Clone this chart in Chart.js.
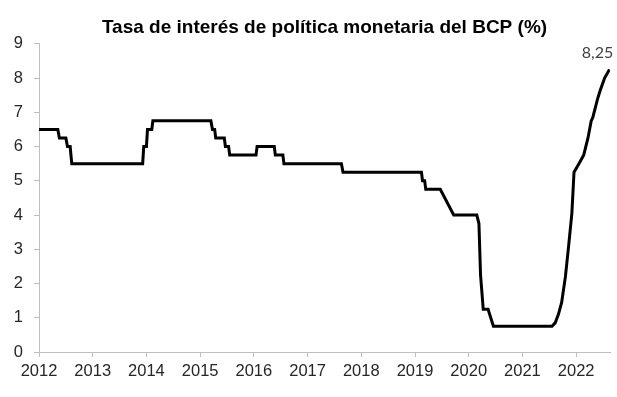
<!DOCTYPE html>
<html>
<head>
<meta charset="utf-8">
<script src="https://cdn.jsdelivr.net/npm/chart.js@4/dist/chart.umd.min.js"></script>
<style>
  html, body { margin: 0; padding: 0; background: #fff; }
  #wrap { width: 617px; height: 397px; }
</style>
</head>
<body>
<div id="wrap"><canvas id="chart" width="617" height="397"></canvas></div>
<script>
// breakpoints of the policy rate, x in decimal years
const dates = [
    2012.00, 2012.35, 2012.38, 2012.50, 2012.53, 2012.58, 2012.61,
    2013.93, 2013.95, 2014.00, 2014.02, 2014.10, 2014.12,
    2015.20, 2015.23, 2015.27, 2015.29, 2015.45, 2015.47, 2015.53, 2015.55,
    2016.04, 2016.06, 2016.38, 2016.40, 2016.54, 2016.56,
    2017.63, 2017.66,
    2019.12, 2019.14, 2019.18, 2019.20, 2019.47, 2019.72,
    2020.15, 2020.19, 2020.22, 2020.27, 2020.36, 2020.46,
    2021.55, 2021.61, 2021.67, 2021.73, 2021.80, 2021.86, 2021.92, 2021.96,
    2022.07, 2022.14, 2022.22, 2022.28, 2022.31, 2022.40, 2022.45, 2022.53, 2022.62
];
const rates = [
    6.5, 6.5, 6.25, 6.25, 6.0, 6.0, 5.5,
    5.5, 6.0, 6.0, 6.5, 6.5, 6.75,
    6.75, 6.5, 6.5, 6.25, 6.25, 6.0, 6.0, 5.75,
    5.75, 6.0, 6.0, 5.75, 5.75, 5.5,
    5.5, 5.25,
    5.25, 5.0, 5.0, 4.75, 4.75, 4.0,
    4.0, 3.75, 2.25, 1.25, 1.25, 0.75,
    0.75, 0.85, 1.1, 1.45, 2.2, 3.1, 4.05, 5.25,
    5.55, 5.75, 6.25, 6.75, 6.85, 7.4, 7.65, 8.0, 8.25
];
const yearTicks = [2012, 2013, 2014, 2015, 2016, 2017, 2018, 2019, 2020, 2021, 2022];
const lastLabel = '8,25';

const points = dates.map((d, i) => ({ x: d, y: rates[i] }));

// label over the last point
const endLabel = {
    id: 'endLabel',
    afterDatasetsDraw(chart) {
        const meta = chart.getDatasetMeta(0);
        const p = meta.data[meta.data.length - 1];
        const ctx = chart.ctx;
        ctx.save();
        ctx.font = '16px Lato';
        ctx.fillStyle = '#404040';
        ctx.textAlign = 'center';
        ctx.textBaseline = 'middle';
        ctx.fillText(lastLabel, p.x - 12, p.y - 17);
        ctx.restore();
    }
};

const axisColor = '#bfbfbf';

new Chart(document.getElementById('chart'), {
    type: 'line',
    data: {
        datasets: [{
            data: points,
            borderColor: '#000',
            borderWidth: 3,
            pointRadius: 0,
            tension: 0,
            fill: false
        }]
    },
    options: {
        responsive: false,
        animation: false,
        layout: { padding: { left: 0, right: 7, top: 0, bottom: 0 } },
        scales: {
            x: {
                type: 'linear',
                min: 2012,
                max: 2022.63,
                afterFit(scale) { scale.height = 45; },
                afterBuildTicks(scale) {
                    scale.ticks = yearTicks.map(v => ({ value: v }));
                },
                grid: { drawOnChartArea: false, tickLength: 5, color: axisColor },
                border: { color: axisColor, width: 1 },
                ticks: {
                    color: '#262626',
                    font: { family: 'Liberation Sans', size: 16.5 },
                    padding: 5,
                    maxRotation: 0,
                    callback: v => String(v)
                }
            },
            y: {
                min: 0,
                max: 9,
                afterFit(scale) { scale.width = 39; },
                grid: { drawOnChartArea: false, tickLength: 5, color: axisColor },
                border: { color: axisColor, width: 1 },
                ticks: {
                    stepSize: 1,
                    color: '#262626',
                    font: { family: 'Liberation Sans', size: 16.5 },
                    padding: 11
                }
            }
        },
        plugins: {
            legend: { display: false },
            tooltip: { enabled: false },
            title: {
                display: true,
                fullSize: false,
                text: 'Tasa de interés de política monetaria del BCP (%)',
                color: '#000',
                font: { family: 'Liberation Sans', size: 19, weight: 'bold' },
                padding: { top: 16, bottom: 5 }
            }
        }
    },
    plugins: [endLabel]
});
</script>
</body>
</html>
